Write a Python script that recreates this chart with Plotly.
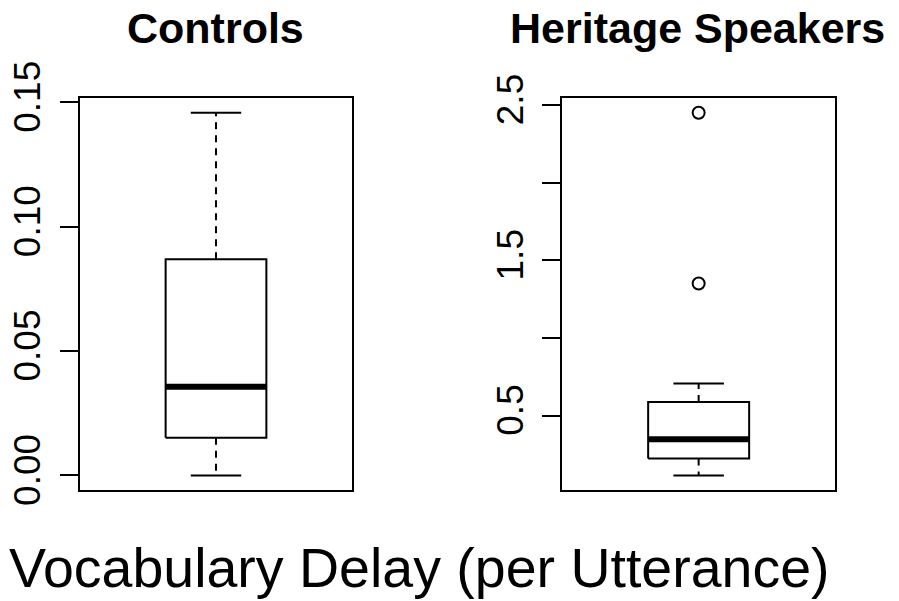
import plotly.graph_objects as go

# ---- data ----
groups = ["Controls", "Heritage Speakers"]
lower_whisker = [0.000, 0.114]
q1 = [0.0152, 0.224]
median = [0.0357, 0.348]
q3 = [0.0869, 0.588]
upper_whisker = [0.1458, 0.707]
outliers = [[], [1.351, 2.45]]
y_tickvals = [[0.00, 0.05, 0.10, 0.15], [0.5, 1.0, 1.5, 2.0, 2.5]]
y_ticktext = [["0.00", "0.05", "0.10", "0.15"], ["0.5", "", "1.5", "", "2.5"]]
x_label = "Vocabulary Delay (per Utterance)"

W, H = 899, 601
FONT = "Liberation Sans, Arial, Helvetica, sans-serif"

fig = go.Figure()

x_dom = [[80 / W, 352 / W], [562.3 / W, 835 / W]]
y_dom = [(601 - 490) / 601, (601 - 98.3) / 601]

pos = 1.0
bw = 0.2   # half box width
cw = 0.1   # half cap width

for i in range(2):
    xa = "x" if i == 0 else "x2"
    ya = "y" if i == 0 else "y2"
    line = dict(color="black", width=2)
    # box
    fig.add_trace(go.Scatter(
        x=[pos - bw, pos + bw, pos + bw, pos - bw, pos - bw],
        y=[q1[i], q1[i], q3[i], q3[i], q1[i]],
        mode="lines", line=line, xaxis=xa, yaxis=ya, hoverinfo="skip"))
    # whiskers (dashed)
    fig.add_trace(go.Scatter(
        x=[pos, pos, None, pos, pos],
        y=[q3[i], upper_whisker[i], None, q1[i], lower_whisker[i]],
        mode="lines", line=dict(color="black", width=2, dash="7px,6px"),
        xaxis=xa, yaxis=ya, hoverinfo="skip"))
    # caps
    fig.add_trace(go.Scatter(
        x=[pos - cw, pos + cw, None, pos - cw, pos + cw],
        y=[upper_whisker[i], upper_whisker[i], None, lower_whisker[i], lower_whisker[i]],
        mode="lines", line=line, xaxis=xa, yaxis=ya, hoverinfo="skip"))
    # median
    fig.add_trace(go.Scatter(
        x=[pos - bw, pos + bw], y=[median[i], median[i]],
        mode="lines", line=dict(color="black", width=6),
        xaxis=xa, yaxis=ya, hoverinfo="skip"))
    # outliers
    if outliers[i]:
        fig.add_trace(go.Scatter(
            x=[pos] * len(outliers[i]), y=outliers[i], mode="markers",
            marker=dict(symbol="circle-open", size=12, color="black",
                        line=dict(width=2, color="black")),
            xaxis=xa, yaxis=ya, hoverinfo="skip"))

def yr(i):
    vals = [lower_whisker[i], upper_whisker[i]] + outliers[i]
    lo, hi = min(vals), max(vals)
    pad = (hi - lo) * 0.04
    return [lo - pad, hi + pad]

common_x = dict(range=[0.46, 1.54], showticklabels=False, ticks="",
                showgrid=False, zeroline=False, showline=True, mirror=True,
                linecolor="black", linewidth=2, automargin=False)
common_y = dict(showgrid=False, zeroline=False, showline=True, mirror=True,
                linecolor="black", linewidth=2, ticks="outside", ticklen=18,
                tickwidth=2, tickcolor="black", tickangle=-90, automargin=False,
                ticklabelstandoff=5,
                tickfont=dict(family=FONT, size=37, color="black"))

fig.update_layout(
    width=W, height=H, margin=dict(l=0, r=0, t=0, b=0, autoexpand=False),
    paper_bgcolor="white", plot_bgcolor="white", showlegend=False,
    xaxis=dict(domain=x_dom[0], anchor="y", **common_x),
    yaxis=dict(domain=y_dom, anchor="x", range=yr(0),
               tickvals=y_tickvals[0], ticktext=y_ticktext[0], **common_y),
    xaxis2=dict(domain=x_dom[1], anchor="y2", **common_x),
    yaxis2=dict(domain=y_dom, anchor="x2", range=yr(1),
                tickvals=y_tickvals[1], ticktext=y_ticktext[1], **common_y),
)

title_x = [215.5 / W, 697.5 / W]
for i in range(2):
    fig.add_annotation(text="<b>%s</b>" % groups[i], x=title_x[i], y=1 - 28 / H,
                       xref="paper", yref="paper", xanchor="center", yanchor="middle",
                       showarrow=False, font=dict(family=FONT, size=43, color="black"))

fig.add_annotation(text=x_label, x=419 / W, y=1 - 568 / H, xref="paper", yref="paper",
                   xanchor="center", yanchor="middle", showarrow=False,
                   font=dict(family=FONT, size=55.5, color="black"))

fig.write_html("out.html", config={"displayModeBar": False},
               post_script="document.body.style.margin='0px';document.body.style.padding='0px';")
